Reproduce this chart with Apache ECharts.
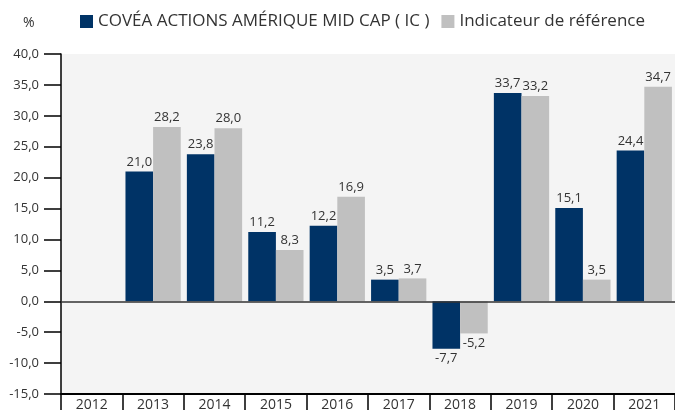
<!DOCTYPE html>
<html>
<head>
<meta charset="utf-8">
<script src="https://cdn.jsdelivr.net/npm/echarts@6/dist/echarts.min.js"></script>
<style>
  html, body { margin: 0; padding: 0; background: #fff; }
  #chart { width: 675px; height: 412px; }
</style>
</head>
<body>
<div id="chart"></div>
<script>
// 类目与数据
const years = ['2012', '2013', '2014', '2015', '2016', '2017', '2018', '2019', '2020', '2021'];
const fondValues = [null, 21.0, 23.8, 11.2, 12.2, 3.5, -7.7, 33.7, 15.1, 24.4];
const indicValues = [null, 28.2, 28.0, 8.3, 16.9, 3.7, -5.2, 33.2, 3.5, 34.7];
const seriesNames = ['COVÉA ACTIONS AMÉRIQUE MID CAP ( IC )', 'Indicateur de référence'];

// 颜色
const textColor = '#333333';
const colorList = ['#003366', '#c0c0c0'];
const fontName = 'Open Sans';

// 数字格式：逗号小数
function fmt(v) {
  return Number(v).toFixed(1).replace('.', ',');
}

// 负值标签放在柱子下方
function toData(list) {
  return list.map(v => {
    if (v === null) return null;
    if (v < 0) return { value: v, label: { position: 'bottom' } };
    return v;
  });
}

let chart = echarts.init(document.getElementById('chart'));

let labelOpt = {
  show: true,
  position: 'top',
  distance: 3,
  color: textColor,
  fontSize: 13,
  fontFamily: fontName,
  formatter: p => fmt(p.value)
};

let option = {
  backgroundColor: '#ffffff',
  animation: false,
  color: colorList,
  textStyle: { fontFamily: fontName, color: textColor },
  title: {
    text: '%',
    left: 18,
    top: 11,
    textStyle: { fontSize: 14, fontWeight: 'normal', color: textColor, fontFamily: fontName }
  },
  legend: {
    data: seriesNames,
    left: 75,
    top: 8,
    itemWidth: 13,
    itemHeight: 13,
    itemGap: 12,
    icon: 'rect',
    textStyle: { fontSize: 17, color: textColor, fontFamily: fontName }
  },
  grid: {
    left: 61,
    right: 0,
    top: 54,
    bottom: 16,
    show: true,
    backgroundColor: '#f4f4f4',
    borderWidth: 0
  },
  xAxis: {
    type: 'category',
    data: years,
    axisLine: { onZero: false, lineStyle: { color: '#000', width: 2 } },
    axisTick: { show: true, alignWithLabel: false, length: 16, lineStyle: { color: '#000', width: 1.5 } },
    axisLabel: { color: textColor, fontSize: 14, margin: 4, fontFamily: fontName },
    splitLine: { show: false }
  },
  yAxis: {
    type: 'value',
    min: -15,
    max: 40,
    interval: 5,
    axisLine: { show: true, lineStyle: { color: '#000', width: 1.5 } },
    axisTick: { show: true, length: 17, lineStyle: { color: '#000', width: 1.5 } },
    axisLabel: { color: textColor, fontSize: 13, margin: 22, fontFamily: fontName, formatter: v => fmt(v) },
    splitLine: { show: false }
  },
  series: [
    {
      name: seriesNames[0],
      type: 'bar',
      data: toData(fondValues),
      barGap: '0%',
      barCategoryGap: '10%',
      label: labelOpt,
      markLine: {
        silent: true,
        symbol: 'none',
        label: { show: false },
        lineStyle: { color: '#333', width: 1.5, type: 'solid' },
        data: [{ yAxis: 0 }]
      }
    },
    {
      name: seriesNames[1],
      type: 'bar',
      data: toData(indicValues),
      barGap: '0%',
      barCategoryGap: '10%',
      label: labelOpt
    }
  ]
};

chart.setOption(option);
</script>
</body>
</html>
